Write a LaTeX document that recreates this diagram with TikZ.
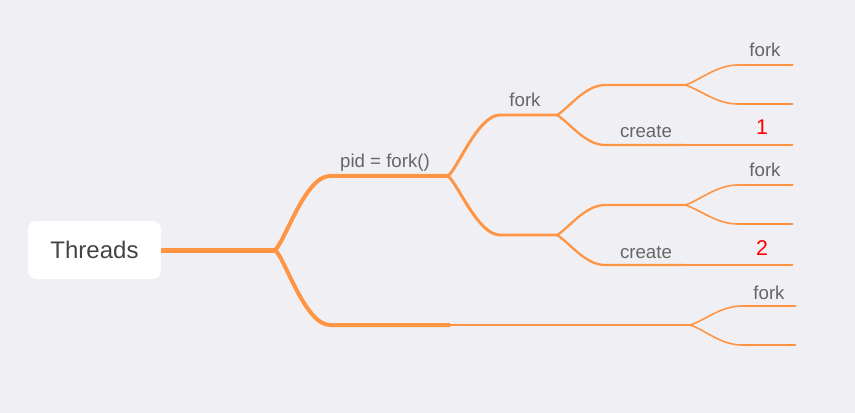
\documentclass[tikz,border=0pt]{standalone}
\usepackage{fontspec}
\setmainfont{Liberation Sans}
\definecolor{branch}{HTML}{FF9442}
\definecolor{bg}{HTML}{EFEFF4}
\definecolor{labelgray}{HTML}{666666}
\definecolor{rootgray}{HTML}{444444}
\begin{document}
\begin{tikzpicture}[x=0.75pt, y=-0.75pt,
    trunk/.style={draw=branch, line width=3.75pt},
    lvlone/.style={draw=branch, line width=3pt},
    lvltwo/.style={draw=branch, line width=2.2pt},
    lvlthree/.style={draw=branch, line width=1.7pt},
    lvlfour/.style={draw=branch, line width=1.2pt},
    tag/.style={text=labelgray, font=\fontsize{14}{16}\selectfont, anchor=base, inner sep=0pt},
    num/.style={text=red, font=\fontsize{16}{18}\selectfont, anchor=base, inner sep=0pt}]

  % Background
  \fill[bg] (0,0) rectangle (855,413);
  \useasboundingbox (0,0) rectangle (855,413);

  % Central topic
  \node[fill=white, rounded corners=6pt, minimum width=99.75pt, minimum height=43.5pt,
        text=rootgray, font=\fontsize{18}{20}\selectfont] (root) at (94.5,250) {Threads};

  % Branch points
  \coordinate (s0) at (275,250);
  \coordinate (s1) at (448,176);
  \coordinate (s6) at (690,325);

  % Trunk
  \draw[trunk] (root.east) -- (s0);

  % pid = fork()
  \draw[lvlone] (s0) .. controls +(10,-8) and +(-25,0) .. (330,176) -- (s1);
  \node[tag] (pid) at (385,168) {pid = fork()};

  % lower main branch
  \draw[lvlone] (s0) .. controls +(10,8) and +(-25,0) .. (330,325) -- (450,325);
  \draw[lvltwo] (450,325) -- (562,325);
  \draw[lvlthree] (562,325) -- (s6);

  % the two children of fork()
  \draw[lvltwo] (s1) .. controls +(10,-8) and +(-22,0) .. (500,115) -- (557,115);
  \draw[lvltwo] (s1) .. controls +(10,8) and +(-22,0) .. (500,235) -- (557,235);
  \node[tag] (fork0) at (525,107) {fork};

  \foreach \y/\n in {115/1, 235/2} {
    % fork with two leaves
    \draw[lvlthree] (557,\y) .. controls +(12,-7) and +(-20,0) .. (605,\y-30) -- (685,\y-30);
    \draw[lvlfour] (685,\y-30) .. controls +(14,-4) and +(-22,0) .. (738,\y-50) -- (793,\y-50);
    \draw[lvlfour] (685,\y-30) .. controls +(14,4) and +(-22,0) .. (738,\y-11) -- (793,\y-11);
    \node[tag] (leaf\n) at (765,\y-58) {fork};
    % create
    \draw[lvlthree] (557,\y) .. controls +(12,7) and +(-20,0) .. (605,\y+30) -- (685,\y+30);
    \draw[lvlfour] (685,\y+30) -- (793,\y+30);
    \node[tag] (create\n) at (646,\y+23) {create};
    \node[num] (num\n) at (762,\y+20) {\n};
  }

  % leaves of the lower branch
  \draw[lvlfour] (s6) .. controls +(14,-4) and +(-22,0) .. (742,306) -- (796,306);
  \draw[lvlfour] (s6) .. controls +(14,4) and +(-22,0) .. (742,345) -- (796,345);
  \node[tag] (leaf3) at (769,299) {fork};
\end{tikzpicture}
\end{document}
